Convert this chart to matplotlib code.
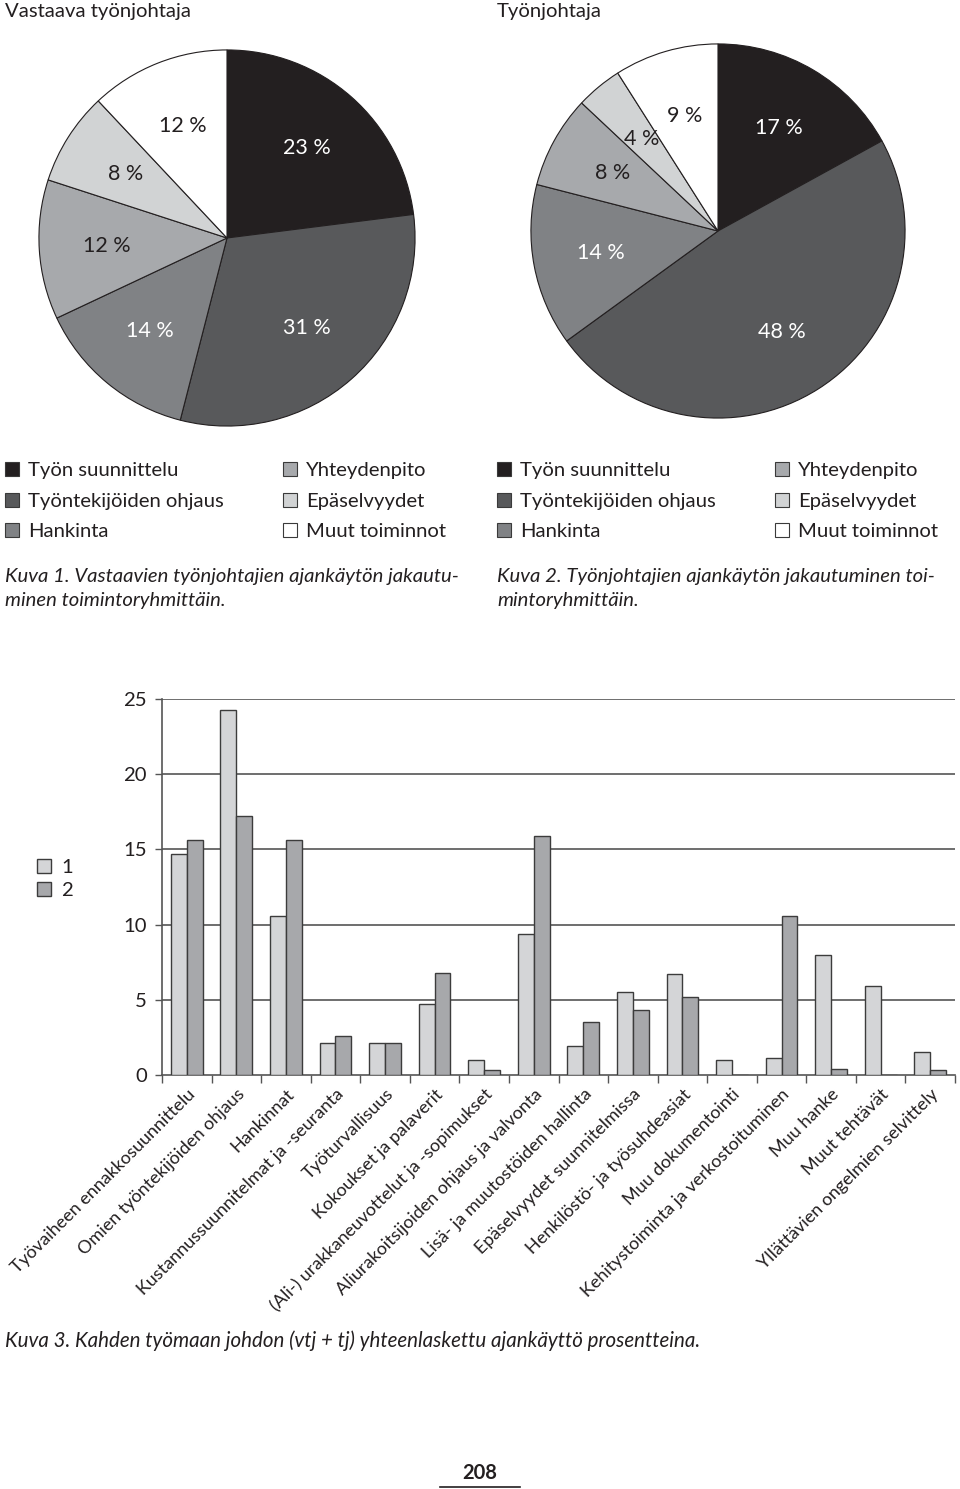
import matplotlib.pyplot as plt
from matplotlib.patches import Patch
from matplotlib.lines import Line2D
import numpy as np

plt.rcParams['font.family'] = ['Lato', 'DejaVu Sans']

W, H = 960, 1489

# pie data
groups = ["Työn suunnittelu", "Työntekijöiden ohjaus", "Hankinta",
          "Yhteydenpito", "Epäselvyydet", "Muut toiminnot"]
group_colors = ["#231f20", "#58595b", "#808285", "#a7a9ac", "#d1d3d4", "#ffffff"]
vtj_share = [23, 31, 14, 12, 8, 12]
tj_share = [17, 48, 14, 8, 4, 9]
pct_text_colors = ["white", "white", "white", "#231f20", "#231f20", "#231f20"]

# bar data
tasks = ["Työvaiheen ennakkosuunnittelu", "Omien työntekijöiden ohjaus", "Hankinnat",
         "Kustannussuunnitelmat ja -seuranta", "Työturvallisuus", "Kokoukset ja palaverit",
         "(Ali-) urakkaneuvottelut ja -sopimukset", "Aliurakoitsijoiden ohjaus ja valvonta",
         "Lisä- ja muutostöiden hallinta", "Epäselvyydet suunnitelmissa",
         "Henkilöstö- ja työsuhdeasiat", "Muu dokumentointi",
         "Kehitystoiminta ja verkostoituminen", "Muu hanke", "Muut tehtävät",
         "Yllättävien ongelmien selvittely"]
series1 = [14.7, 24.3, 10.6, 2.1, 2.1, 4.7, 1.0, 9.4, 1.9, 5.5, 6.7, 1.0, 1.1, 8.0, 5.9, 1.5]
series2 = [15.6, 17.2, 15.6, 2.6, 2.1, 6.8, 0.3, 15.9, 3.5, 4.3, 5.2, 0.0, 10.6, 0.4, 0.0, 0.3]
series_names = ["1", "2"]
series_colors = ["#d4d5d7", "#a7a8ab"]
yticks = [0, 5, 10, 15, 20, 25]

TXT = "#231f20"
FS = 14.6


def px_axes(x0, y0, x1, y1):
    # pixel box (top-left origin) -> figure axes
    return fig.add_axes([x0 / W, 1 - y1 / H, (x1 - x0) / W, (y1 - y0) / H])


def fx(x):
    return x / W


def fy(y):
    return 1 - y / H


fig = plt.figure(figsize=(W / 100, H / 100), dpi=100)


def draw_pie(cx, cy, r, values, title, tx, legend_x, caption):
    ax = px_axes(cx - r, cy - r, cx + r, cy + r)
    wedges, _, autotexts = ax.pie(values, colors=group_colors, startangle=90, counterclock=False,
                                  autopct=lambda p: f"{p:.0f} %", pctdistance=0.64,
                                  wedgeprops=dict(edgecolor="#231f20", linewidth=0.8))
    for t, c in zip(autotexts, pct_text_colors):
        t.set_color(c)
        t.set_fontsize(15.5)
    ax.set_xlim(-1.005, 1.005)
    ax.set_ylim(-1.005, 1.005)
    ax.set_aspect("equal")
    fig.text(fx(tx), fy(12), title, fontsize=FS, color=TXT, va="center", ha="left")

    handles = [Patch(facecolor=c, edgecolor="#3a3a3a", linewidth=0.8) for c in group_colors]
    for col in range(2):
        leg = fig.legend(handles[col * 3:col * 3 + 3], groups[col * 3:col * 3 + 3],
                         loc="upper left", bbox_to_anchor=(fx(legend_x[col]), fy(462)),
                         frameon=False, fontsize=FS, handlelength=0.7, handleheight=0.7,
                         handletextpad=0.45, labelspacing=0.66, borderpad=0, borderaxespad=0)
        for t in leg.get_texts():
            t.set_color(TXT)
    fig.text(fx(tx), fy(588), caption, fontsize=FS, style="italic", color=TXT,
             va="center", ha="left", linespacing=1.5)


draw_pie(227, 238, 189, vtj_share, "Vastaava työnjohtaja", 5, [5, 283],
         "Kuva 1. Vastaavien työnjohtajien ajankäytön jakautu-\nminen toimintoryhmittäin.")
draw_pie(718, 231, 188, tj_share, "Työnjohtaja", 497, [497, 775],
         "Kuva 2. Työnjohtajien ajankäytön jakautuminen toi-\nmintoryhmittäin.")

# bar chart
ax = px_axes(162, 699, 955, 1075)
x = np.arange(len(tasks)) + 0.5
bw = 0.32
ax.bar(x - bw / 2, series1, bw, color=series_colors[0], edgecolor="#3c3c3c", linewidth=1.0,
       label=series_names[0], zorder=3)
ax.bar(x + bw / 2, series2, bw, color=series_colors[1], edgecolor="#3c3c3c", linewidth=1.0,
       label=series_names[1], zorder=3)
ax.set_xlim(0, len(tasks))
ax.set_ylim(0, 25)
ax.set_yticks(yticks)
ax.tick_params(axis="y", length=5, width=1, color="#555555", labelsize=FS, labelcolor=TXT, pad=6)
for v in yticks[1:]:
    ax.axhline(v, color="#555555", linewidth=1.2, zorder=1)
for s in ["top", "right"]:
    ax.spines[s].set_visible(False)
for s in ["left", "bottom"]:
    ax.spines[s].set_color("#555555")
    ax.spines[s].set_linewidth(1.2)
ax.set_xticks(np.arange(len(tasks) + 1), minor=True)
ax.tick_params(axis="x", which="minor", length=6, width=1, color="#555555")
ax.set_xticks(x)
ax.set_xticklabels(tasks, rotation=45, ha="right", rotation_mode="anchor", fontsize=13, color=TXT)
ax.tick_params(axis="x", which="major", length=0, pad=8)
leg = ax.legend(loc="upper left", bbox_to_anchor=(fx(37), fy(859)), bbox_transform=fig.transFigure,
                frameon=False, fontsize=FS, handlelength=0.7, handleheight=0.7,
                handletextpad=0.5, labelspacing=0.3, borderpad=0, borderaxespad=0)
for t in leg.get_texts():
    t.set_color(TXT)

fig.text(fx(5), fy(1341), "Kuva 3. Kahden työmaan johdon (vtj + tj) yhteenlaskettu ajankäyttö prosentteina.",
         fontsize=14.8, style="italic", color=TXT, va="center", ha="left")

# page number
fig.text(fx(480), fy(1473), "208", fontsize=14.5, fontweight="bold", color=TXT, ha="center", va="center")
fig.add_artist(Line2D([fx(440), fx(520)], [fy(1487), fy(1487)], color=TXT, linewidth=1.2))

fig.savefig("out.png", dpi=100)
